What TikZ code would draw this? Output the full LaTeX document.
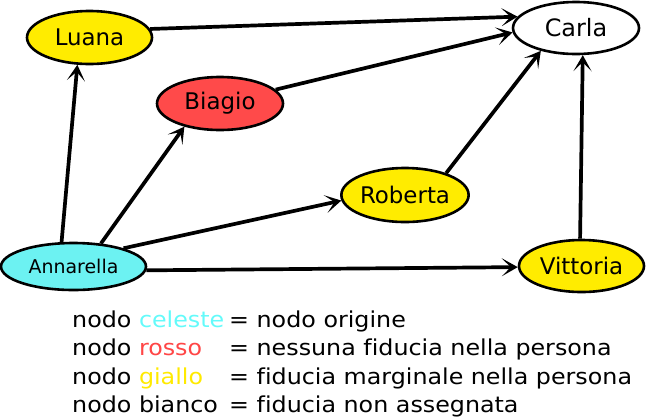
\documentclass[tikz,border=0pt]{standalone}
\usepackage{fontspec}
\setmainfont{DejaVu Sans}
\newfontfamily\legendfont[FakeStretch=1.085,Ligatures=NoCommon]{DejaVu Sans}
\usetikzlibrary{shapes.geometric,arrows.meta}
\definecolor{celeste}{RGB}{108,242,242}
\definecolor{rosso}{RGB}{255,74,74}
\definecolor{giallo}{RGB}{255,236,0}
\definecolor{celestetxt}{RGB}{100,250,250}
\definecolor{rossotxt}{RGB}{255,70,70}
\definecolor{giallotxt}{RGB}{255,234,0}
\tikzset{
  person/.style={ellipse,draw=black,line width=2.6bp,inner sep=0pt,
    font=\fontsize{23}{23}\selectfont},
  link/.style={line width=3.7bp,-{Stealth[length=16bp,width=18bp,inset=9bp]}},
  legend/.style={anchor=base west,inner sep=0pt,font=\legendfont\fontsize{22}{22}\selectfont}
}
\begin{document}
\begin{tikzpicture}[x=1bp,y=-1bp]
\useasboundingbox (0,0) rectangle (646,418);
\node[person,fill=giallo,minimum width=125bp,minimum height=53bp] (luana) at (89.5,37.5) {Luana};
\node[person,fill=rosso,minimum width=126bp,minimum height=53bp] (biagio) at (220,103.5) {Biagio};
\node[person,fill=white,minimum width=126bp,minimum height=52bp,font=\fontsize{24}{24}\selectfont] (carla) at (576,28) {Carla};
\node[person,fill=giallo,minimum width=124bp,minimum height=54bp] (roberta) at (405,195) {Roberta};
\node[person,fill=celeste,minimum width=145bp,minimum height=47bp,font=\fontsize{19}{19}\selectfont] (ann) at (73.5,266.5) {Annarella};
\node[person,fill=giallo,minimum width=125bp,minimum height=52bp] (vittoria) at (581.5,266) {Vittoria};

\draw[link] (ann.116) -- (luana.246);
\draw[link] (ann.40) -- (biagio.213);
\draw[link] (ann.20) -- (roberta.185);
\draw[link] (ann.-3) -- (vittoria.181);
\draw[link] (luana.8) -- (carla.169);
\draw[link] (biagio.14) -- (carla.184);
\draw[link] (roberta.28) -- (carla.213);
\draw[link] (vittoria.93) -- (carla.284);

\node[legend] (l1a) at (72,327) {nodo \textcolor{celestetxt}{celeste}};
\node[legend] (l1b) at (229,327) {= nodo origine};
\node[legend] (l2a) at (72,355.5) {nodo \textcolor{rossotxt}{rosso}};
\node[legend] (l2b) at (229,355.5) {= nessuna fiducia nella persona};
\node[legend] (l3a) at (72,384) {nodo \textcolor{giallotxt}{giallo}};
\node[legend] (l3b) at (229,384) {= fiducia marginale nella persona};
\node[legend] (l4a) at (72,412.5) {nodo bianco};
\node[legend] (l4b) at (229,412.5) {= fiducia non assegnata};
\end{tikzpicture}
\end{document}
